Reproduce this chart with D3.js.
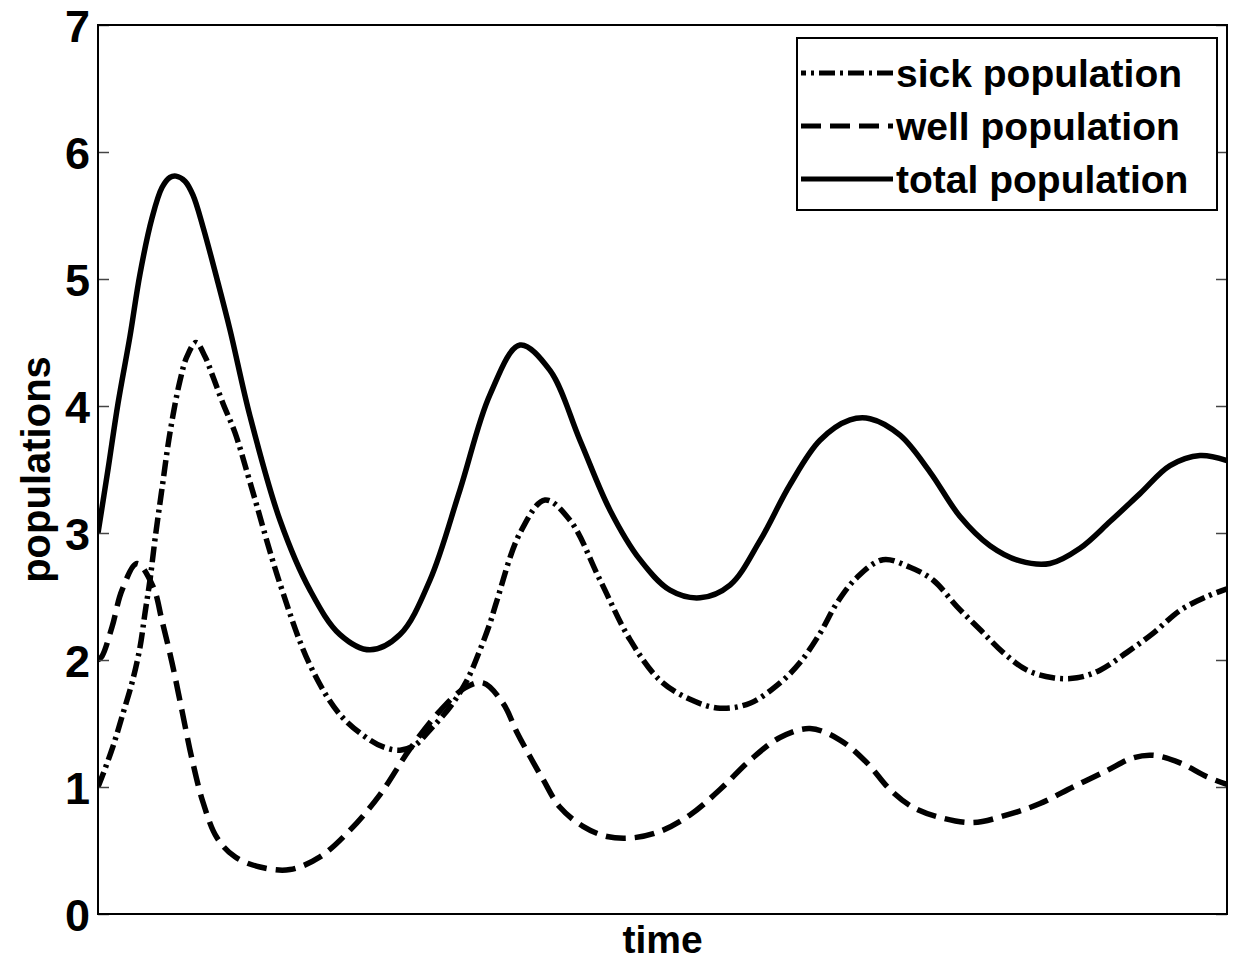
<!DOCTYPE html>
<html>
<head>
<meta charset="utf-8">
<script src="https://cdn.jsdelivr.net/npm/d3@7"></script>
<style>
  body { margin: 0; background: #fff; }
  svg text { font-family: "Liberation Sans", Arial, sans-serif; font-weight: bold; fill: #000; }
</style>
</head>
<body>
<svg id="chart"></svg>
<script>
let svgWidth = 1233, svgHeight = 967

// series (time has no units on the plot, 0..112.9)
let totalTime = [0, 1, 2, 3.2, 4.2, 5.4, 6.4, 7.2, 7.8, 8.7, 9.5, 10.5, 11.9, 13.2, 15.2, 18.2, 21.2, 24.2, 27.2, 30.2, 33.2, 36.2, 39.2, 42.2, 45.2, 48.2, 51.2, 54.2, 57.2, 60.2, 63.2, 66.2, 69.2, 72.2, 75.2, 77.2, 80.2, 83.2, 86.2, 89.2, 92.2, 95.2, 98.2, 101.2, 104.2, 107.2, 110.2, 112.9]
let totalPop  = [3.0, 3.5, 4.02, 4.55, 5.04, 5.48, 5.72, 5.8, 5.81, 5.77, 5.66, 5.41, 5.0, 4.6, 3.92, 3.1, 2.55, 2.2, 2.08, 2.2, 2.63, 3.34, 4.09, 4.48, 4.28, 3.73, 3.18, 2.79, 2.55, 2.49, 2.59, 2.94, 3.38, 3.73, 3.89, 3.9, 3.77, 3.48, 3.13, 2.9, 2.78, 2.76, 2.88, 3.09, 3.31, 3.53, 3.61, 3.57]

let sickTime = [0, 0.4, 1.5, 2.5, 3.4, 4.2, 4.7, 5.2, 5.7, 6.4, 7.2, 8.2, 8.9, 9.8, 10.7, 11.5, 12.5, 13.7, 15.2, 18.2, 21.2, 24.2, 27.2, 28.7, 30.2, 31.7, 33.2, 35.2, 36.9, 38.2, 39.2, 39.9, 42.2, 44.7, 47.2, 50.2, 53.2, 56.2, 59.2, 62.2, 65.2, 68.2, 70.2, 72.2, 73.9, 75.9, 78.5, 81.2, 83.5, 85.9, 88.2, 90.5, 92.9, 95.5, 97.9, 100.2, 102.9, 105.5, 108.2, 110.9, 112.9]
let sickPop  = [1.0, 1.08, 1.32, 1.58, 1.82, 2.1, 2.37, 2.63, 2.95, 3.35, 3.79, 4.2, 4.39, 4.5, 4.39, 4.23, 4.02, 3.79, 3.4, 2.6, 1.96, 1.57, 1.37, 1.31, 1.29, 1.33, 1.45, 1.63, 1.84, 2.08, 2.29, 2.47, 3.0, 3.26, 3.1, 2.63, 2.16, 1.84, 1.69, 1.62, 1.66, 1.82, 1.98, 2.21, 2.45, 2.65, 2.79, 2.73, 2.63, 2.42, 2.24, 2.06, 1.92, 1.86, 1.86, 1.92, 2.06, 2.21, 2.39, 2.5, 2.56]

let wellTime = [0, 0.4, 1.4, 2.4, 3.9, 5.5, 6.4, 7.4, 8.4, 9.4, 10.5, 11.9, 13.7, 16.2, 19.2, 22.2, 25.2, 28.2, 31.2, 34.2, 36.7, 38.5, 40.5, 41.9, 43.2, 44.5, 46.2, 48.5, 50.9, 53.5, 56.2, 59.2, 62.2, 65.2, 68.2, 71.2, 74.2, 76.9, 79.2, 81.5, 84.2, 87.5, 90.9, 94.2, 97.5, 100.9, 103.5, 105.5, 108.2, 110.9, 112.9]
let wellPop  = [2.0, 2.03, 2.26, 2.55, 2.76, 2.58, 2.31, 1.98, 1.6, 1.22, 0.88, 0.6, 0.45, 0.37, 0.35, 0.45, 0.66, 0.94, 1.3, 1.6, 1.78, 1.82, 1.66, 1.43, 1.24, 1.06, 0.84, 0.69, 0.61, 0.6, 0.65, 0.78, 0.98, 1.21, 1.39, 1.46, 1.37, 1.19, 0.98, 0.84, 0.76, 0.72, 0.78, 0.87, 1.0, 1.13, 1.23, 1.25, 1.19, 1.08, 1.02]

let yTicks = [0, 1, 2, 3, 4, 5, 6, 7]
let legendNames = ['sick population', 'well population', 'total population']

let margin = { left: 98, right: 6, top: 25, bottom: 53 }
let plotW = svgWidth - margin.left - margin.right
let plotH = svgHeight - margin.top - margin.bottom

let svg = d3.select('#chart').attr('width', svgWidth).attr('height', svgHeight)

let x = d3.scaleLinear().domain([0, 112.9]).range([margin.left, margin.left + plotW])
let y = d3.scaleLinear().domain([0, 7]).range([margin.top + plotH, margin.top])

let line = d3.line()
  .x(d => x(d[0]))
  .y(d => y(d[1]))
  .curve(d3.curveCatmullRom.alpha(0.5))

const styles = [
  { name: legendNames[0], dash: '16,5,3,5', legOffset: 11, time: sickTime, vals: sickPop },
  { name: legendNames[1], dash: '20,9', legOffset: 0, time: wellTime, vals: wellPop },
  { name: legendNames[2], dash: null, legOffset: 0, time: totalTime, vals: totalPop }
]

let clip = svg.append('defs').append('clipPath').attr('id', 'plotClip')
clip.append('rect').attr('x', margin.left).attr('y', margin.top).attr('width', plotW).attr('height', plotH)

let g = svg.append('g').attr('clip-path', 'url(#plotClip)')
styles.forEach(s => {
  g.append('path')
    .datum(s.time.map((t, i) => [t, s.vals[i]]))
    .attr('d', line)
    .attr('fill', 'none')
    .attr('stroke', '#000')
    .attr('stroke-width', 5.5)
    .attr('stroke-dasharray', s.dash)
})

// left axis, ticks point inward
let leftAxis = d3.axisLeft(y).tickValues(yTicks).tickSize(-11).tickPadding(8).tickFormat(d3.format('d'))
let gl = svg.append('g').attr('transform', `translate(${margin.left},0)`).call(leftAxis)
gl.select('.domain').remove()
gl.selectAll('.tick line').attr('stroke', '#444').attr('stroke-width', 1.5)
gl.selectAll('.tick text').style('font-size', '45px').attr('dy', '0.36em')

let rightAxis = d3.axisRight(y).tickValues(yTicks).tickSize(-11).tickFormat('')
let gr = svg.append('g').attr('transform', `translate(${margin.left + plotW},0)`).call(rightAxis)
gr.select('.domain').remove()
gr.selectAll('.tick line').attr('stroke', '#444').attr('stroke-width', 1.5)

svg.append('rect')
  .attr('x', margin.left).attr('y', margin.top)
  .attr('width', plotW).attr('height', plotH)
  .attr('fill', 'none').attr('stroke', '#000').attr('stroke-width', 2)

// axis labels
svg.append('text')
  .attr('x', margin.left + plotW / 2).attr('y', 953)
  .attr('text-anchor', 'middle')
  .style('font-size', '39px')
  .text('time')

svg.append('text')
  .attr('transform', `translate(50,${margin.top + plotH / 2}) rotate(-90)`)
  .attr('text-anchor', 'middle')
  .style('font-size', '40px')
  .text('populations')

// legend
let lg = svg.append('g').attr('transform', 'translate(797,38)')
lg.append('rect').attr('width', 420).attr('height', 172)
  .attr('fill', '#fff').attr('stroke', '#000').attr('stroke-width', 2)
styles.forEach((s, i) => {
  let cy = 35 + i * 53
  lg.append('line')
    .attr('x1', 4).attr('x2', 96).attr('y1', cy).attr('y2', cy)
    .attr('stroke', '#000').attr('stroke-width', 5)
    .attr('stroke-dasharray', s.dash)
    .attr('stroke-dashoffset', s.legOffset)
  lg.append('text')
    .attr('x', 99).attr('y', cy).attr('dy', '0.35em')
    .style('font-size', '39px')
    .text(s.name)
})
</script>
</body>
</html>
